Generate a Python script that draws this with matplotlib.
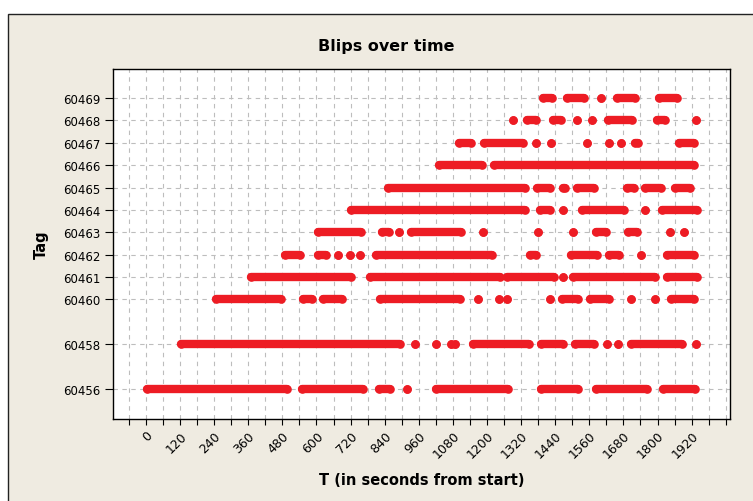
import matplotlib
matplotlib.use('Agg')
from matplotlib import pyplot as plt
from matplotlib.patches import Rectangle
import numpy as np

tags = [60456, 60458, 60460, 60461, 60462, 60463, 60464, 60465, 60466, 60467, 60468, 60469]

# blips per tag as (first, last) seconds of a continuous run; a single blip has first == last
runs_60456 = [(3, 496), (548, 764), (821, 860), (919, 919), (1021, 1275), (1391, 1521),
              (1584, 1762), (1819, 1932)]
runs_60458 = [(125, 895), (946, 946), (1019, 1019), (1073, 1073), (1087, 1087), (1150, 1349),
              (1391, 1468), (1508, 1576), (1622, 1622), (1662, 1662), (1706, 1885), (1934, 1934)]
runs_60460 = [(247, 475), (551, 585), (624, 691), (825, 1104), (1170, 1170), (1242, 1242),
              (1269, 1269), (1423, 1423), (1463, 1521), (1564, 1628), (1705, 1705),
              (1790, 1790), (1849, 1930)]
runs_60461 = [(369, 720), (789, 1244), (1272, 1434), (1469, 1469), (1501, 1790), (1832, 1938)]
runs_60462 = [(489, 543), (604, 632), (676, 676), (717, 717), (752, 752), (810, 1219),
              (1350, 1374), (1497, 1586), (1631, 1663), (1742, 1742), (1835, 1930)]
runs_60463 = [(607, 755), (829, 854), (889, 889), (934, 1110), (1187, 1187), (1381, 1381),
              (1504, 1504), (1584, 1617), (1696, 1727), (1844, 1844), (1894, 1894)]
runs_60464 = [(721, 1332), (1388, 1420), (1469, 1469), (1533, 1681), (1755, 1755), (1815, 1938)]
runs_60465 = [(853, 1332), (1377, 1420), (1466, 1476), (1518, 1575), (1691, 1716),
              (1755, 1811), (1860, 1913)]
runs_60466 = [(1030, 1181), (1223, 1930)]
runs_60467 = [(1102, 1144), (1191, 1325), (1371, 1371), (1424, 1424), (1553, 1553),
              (1629, 1629), (1670, 1670), (1719, 1733), (1877, 1930)]
runs_60468 = [(1290, 1290), (1342, 1371), (1431, 1459), (1515, 1515), (1570, 1570),
              (1625, 1711), (1797, 1825), (1936, 1936)]
runs_60469 = [(1397, 1427), (1483, 1543), (1601, 1601), (1658, 1719), (1805, 1867)]

all_runs = [runs_60456, runs_60458, runs_60460, runs_60461, runs_60462, runs_60463,
            runs_60464, runs_60465, runs_60466, runs_60467, runs_60468, runs_60469]

red = '#ed1c24'
beige = '#efebe1'

fig = plt.figure(figsize=(7.53, 5.02), dpi=100, facecolor='white')
# panel behind the graph
fig.patches.append(Rectangle((8 / 753, -0.1), 1.2, 1.1 - 15 / 502, transform=fig.transFigure,
                             facecolor=beige, edgecolor='#222222', lw=1, zorder=-10))

ax = fig.add_axes([113 / 753, 1 - 420 / 502, 617 / 753, 350 / 502])
ax.set_facecolor('white')

for tag, runs in zip(tags, all_runs):
    for a, b in runs:
        ax.plot([a, b], [tag, tag], color=red, lw=6, solid_capstyle='round',
                marker='o', ms=6.2, mew=0, zorder=3)

ax.set_xlim(-116, 2055)
ax.set_ylim(60454.66, 60470.3)

ax.set_xticks(np.arange(0, 1921, 120))
ax.set_xticks(np.arange(-60, 2041, 60), minor=True)
ax.set_yticks(tags)
ax.set_yticklabels([str(t) for t in tags], fontsize=8.5)
ax.set_xticklabels([str(v) for v in range(0, 1921, 120)], fontsize=9,
                   rotation=45, ha='right', va='top', rotation_mode='anchor')

ax.tick_params(axis='x', which='both', direction='out', length=4, width=0.8, pad=3)
ax.tick_params(axis='y', direction='out', length=6, width=0.8, pad=3)

ax.grid(True, axis='x', which='both', color='#bdbdbd', lw=0.8, ls=(0, (4, 4)))
ax.grid(True, axis='y', which='major', color='#bdbdbd', lw=0.8, ls=(0, (4, 4)))
ax.set_axisbelow(True)

for s in ax.spines.values():
    s.set_color('black')
    s.set_linewidth(1)

fig.text(386 / 753, 1 - 46 / 502, 'Blips over time', ha='center', va='center',
         fontsize=11.5, fontweight='bold')
ax.set_xlabel('T (in seconds from start)', fontsize=10.5, fontweight='bold', labelpad=8)
ax.set_ylabel('Tag', fontsize=10.5, fontweight='bold', labelpad=10)

fig.savefig('out.png', dpi=100)
